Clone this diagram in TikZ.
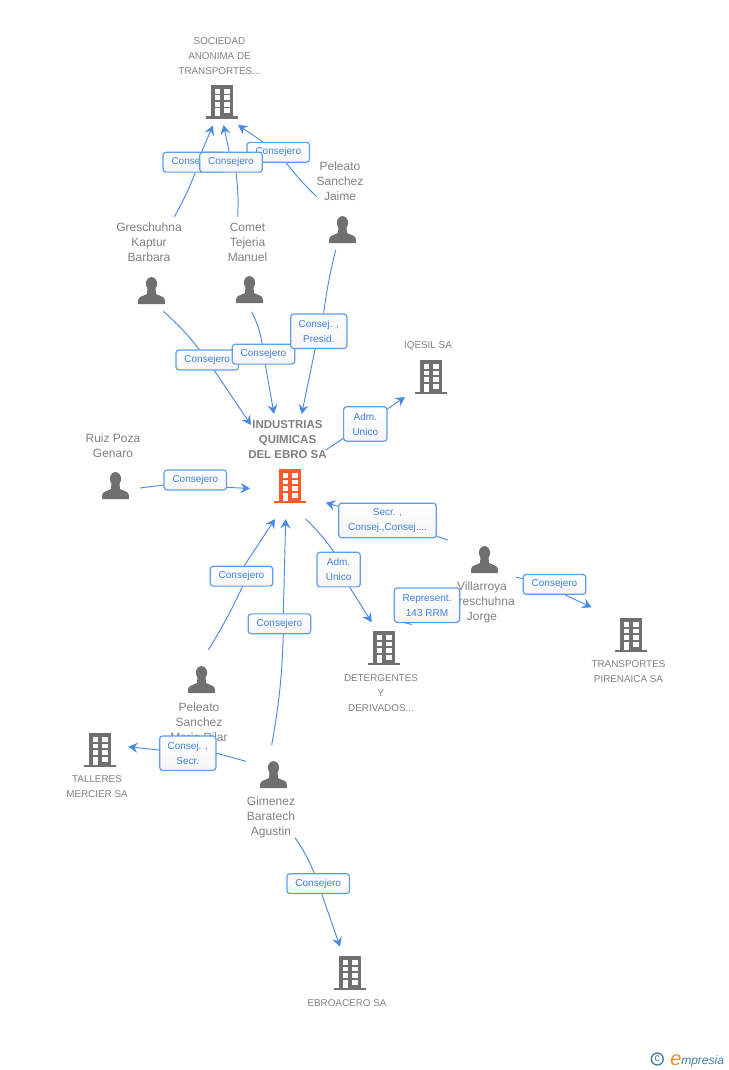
\documentclass[tikz,border=0pt]{standalone}
\usepackage{fontspec}
\setmainfont{Liberation Sans}
\usetikzlibrary{arrows.meta}

\definecolor{icongray}{HTML}{707070}
\definecolor{icored}{HTML}{FF5A2B}
\definecolor{textgray}{HTML}{808080}
\definecolor{linkblue}{HTML}{4A8BE0}
\definecolor{boxblue}{HTML}{5F9CEA}
\definecolor{labelblue}{HTML}{3D80E0}
\definecolor{logoteal}{HTML}{3F7F9F}
\definecolor{logoorange}{HTML}{F08A24}

\tikzset{
	person/.style = {font = \fontsize{9}{11.25}\selectfont, text = textgray, align = center, inner sep = 0},
	company/.style = {font = \fontsize{7.4}{11.25}\selectfont, text = textgray, align = center, inner sep = 0},
	mainco/.style = {font = \fontsize{8.6}{11.25}\selectfont\bfseries, text = textgray, align = center, inner sep = 0},
	role/.style = {draw = boxblue, line width = 0.9pt, rounded corners = 2.2pt, top color = white, bottom color = black!4,
		font = \fontsize{7.5}{11.25}\selectfont, text = labelblue, align = center, inner sep = 0,
		minimum width = 46.9pt, minimum height = 14.9pt},
	rolewide/.style = {role, minimum height = 25.9pt},
	link/.style = {linkblue, line width = 0.7pt},
	tolink/.style = {link, -{Stealth[length = 7pt, width = 7.5pt, inset = 2.5pt]}},
	pics/building/.style = {code = {
		\fill[#1] (-11, -34) rectangle (11, -2);
		\fill[#1] (-16, -2.5) rectangle (16, 0);
		\foreach \wy in {-30, -23.5, -17} {
			\fill[white] (-7.5, \wy) rectangle (-2, \wy + 4.7);
			\fill[white] (2.2, \wy) rectangle (8, \wy + 4.7);
		}
		\fill[white] (2.2, -10.5) rectangle (8, -5.5);
		\fill[white] (-7.5, -10.5) rectangle (-2, -2.5);
	}},
	pics/human/.style = {code = {
		\fill[icongray] (0, -20.3) ellipse (5.6 and 6.6);
		\fill[icongray] (-13.3, 0) -- (-13.3, -4) .. controls (-13.3, -7.5) and (-8, -8) .. (-4.5, -10)
			-- (-4, -16) -- (4, -16) -- (4.5, -10) .. controls (8, -8) and (13.3, -7.5) .. (13.3, -4) -- (13.3, 0) -- cycle;
	}}
}

\begin{document}
\begin{tikzpicture}[x = 0.75pt, y = -0.75pt]
	\useasboundingbox (0, 0) rectangle (728, 1070);

	%	companies
	\pic at (222, 119) {building = icongray};
	\pic at (431, 394) {building = icongray};
	\pic at (290, 503) {building = icored};
	\pic at (384, 665) {building = icongray};
	\pic at (631, 652) {building = icongray};
	\pic at (100, 767) {building = icongray};
	\pic at (350, 990) {building = icongray};

	\node[company] (sociedad) at (219.5, 56) {SOCIEDAD\\ANONIMA DE\\TRANSPORTES...};
	\node[company] (iqesil) at (428, 346) {IQESIL SA};
	\node[mainco] (industrias) at (287.5, 440) {INDUSTRIAS\\QUIMICAS\\DEL EBRO SA};
	\node[company] (detergentes) at (381, 693) {DETERGENTES\\Y\\DERIVADOS...};
	\node[company] (pirenaica) at (628.5, 671.5) {TRANSPORTES\\PIRENAICA SA};
	\node[company] (talleres) at (97, 786.5) {TALLERES\\MERCIER SA};
	\node[company] (ebroacero) at (347, 1003) {EBROACERO SA};

	%	people
	\pic at (342.5, 243) {human};
	\pic at (151.5, 304) {human};
	\pic at (249.5, 303) {human};
	\pic at (115.5, 499) {human};
	\pic at (484.5, 573) {human};
	\pic at (201.5, 693) {human};
	\pic at (273.5, 788) {human};

	\node[person] (jaime) at (340, 181.5) {Peleato\\Sanchez\\Jaime};
	\node[person] (barbara) at (149, 242.5) {Greschuhna\\Kaptur\\Barbara};
	\node[person] (manuel) at (247.5, 242) {Comet\\Tejeria\\Manuel};
	\node[person] (genaro) at (113, 445.5) {Ruiz Poza\\Genaro};
	\node[person] (jorge) at (482, 602) {Villarroya\\Greschuhna\\Jorge};
	\node[person] (pilar) at (199, 722) {Peleato\\Sanchez\\Maria Pilar};
	\node[person] (agustin) at (271, 817) {Gimenez\\Baratech\\Agustin};

	%	role boxes
	\node[role] (barbaraSoc) at (194.3, 162.2) {Consejero};
	\node[role] (jaimeSoc) at (278.3, 152.3) {Consejero};
	\node[role] (manuelSoc) at (231, 162.2) {Consejero};
	\node[role] (barbaraInd) at (207.2, 360) {Consejero};
	\node[role] (manuelInd) at (263.5, 354.2) {Consejero};
	\node[rolewide, minimum width = 42.2pt] (jaimeInd) at (318.8, 331.3) {Consej. ,\\Presid.};
	\node[rolewide, minimum width = 32.5pt] (indIqe) at (365.3, 424) {Adm.\\Unico};
	\node[role] (genaroInd) at (195.3, 480) {Consejero};
	\node[rolewide, minimum width = 73.2pt] (jorgeInd) at (387.5, 520.5) {Secr. ,\\Consej.,Consej....};
	\node[rolewide, minimum width = 32.5pt] (indDet) at (338.6, 569.6) {Adm.\\Unico};
	\node[rolewide, minimum width = 49pt] (jorgeDet) at (427, 605.2) {Represent.\\143 RRM};
	\node[role] (jorgePir) at (554.5, 584.4) {Consejero};
	\node[role] (pilarInd) at (241.5, 576.2) {Consejero};
	\node[role] (agustinInd) at (279.5, 623.8) {Consejero};
	\node[rolewide, minimum width = 42.2pt] (agustinTal) at (187.8, 753.2) {Consej. ,\\Secr.};
	\node[role] (agustinEbr) at (318.2, 883.6) {Consejero};

	%	free ends
	\coordinate (a1) at (174.3, 216.7);
	\coordinate (b1) at (213, 125.5);
	\coordinate (a2) at (237.7, 216.7);
	\coordinate (b2) at (223.5, 125);
	\coordinate (a3) at (316.7, 196.7);
	\coordinate (b3) at (238, 125);
	\coordinate (a4) at (335.7, 250);
	\coordinate (b4) at (301.7, 414);
	\coordinate (a5) at (163.3, 311.3);
	\coordinate (b5) at (251, 425);
	\coordinate (a6) at (251.7, 311.7);
	\coordinate (b6) at (274, 414);
	\coordinate (a7) at (325.7, 450);
	\coordinate (b7) at (405, 397);
	\coordinate (a8) at (140, 488);
	\coordinate (b8) at (250, 488.5);
	\coordinate (a9) at (448, 540);
	\coordinate (b9) at (325.7, 502.7);
	\coordinate (a10) at (305.7, 519);
	\coordinate (b10) at (371.7, 622.3);
	\coordinate (a11) at (404, 622.5);
	\coordinate (b11) at (412, 624.5);
	\coordinate (a12) at (516, 577.3);
	\coordinate (b12) at (591.7, 607.3);
	\coordinate (a13) at (208.3, 650);
	\coordinate (b13) at (275, 519);
	\coordinate (a14) at (271.7, 745);
	\coordinate (b14) at (285.7, 519);
	\coordinate (a15) at (246, 761.3);
	\coordinate (b15) at (128.3, 746.7);
	\coordinate (a16) at (295, 837.7);
	\coordinate (b16) at (340, 946.7);

	%	connectors
	\draw[link] (a1) to[bend right = 4] (barbaraSoc.-85);
	\draw[tolink] (barbaraSoc.55) -- (b1);
	\draw[link] (a2) to[bend right = 5] (manuelSoc.-65);
	\draw[tolink] (manuelSoc.100) -- (b2);
	\draw[link] (a3) to[bend left = 4] (jaimeSoc);
	\draw[tolink] (jaimeSoc) -- (b3);
	\draw[link] (a4) to[bend right = 3] (jaimeInd.75);
	\draw[tolink] (jaimeInd) -- (b4);
	\draw[link] (a5) to[bend left = 5] (barbaraInd);
	\draw[tolink] (barbaraInd) -- (b5);
	\draw[link] (a6) to[bend left = 8] (manuelInd);
	\draw[tolink] (manuelInd) -- (b6);
	\draw[link] (a7) -- (indIqe);
	\draw[tolink] (indIqe) -- (b7);
	\draw[link] (a8) -- (genaroInd.189);
	\draw[tolink] (genaroInd.-13) -- (b8);
	\draw[link] (a9) -- (jorgeInd);
	\draw[tolink] (jorgeInd) -- (b9);
	\draw[link] (a10) to[bend left = 5] (indDet.105);
	\draw[tolink] (indDet) -- (b10);
	\draw[link] (a11) -- (b11);
	\draw[link] (a12) -- (jorgePir);
	\draw[tolink] (jorgePir.-45) -- (b12);
	\draw[link] (a13) to[bend right = 3] (pilarInd.-85);
	\draw[tolink] (pilarInd.75) -- (b13);
	\draw[link] (a14) to[bend right = 4] (agustinInd.-70);
	\draw[tolink] (agustinInd.70) -- (b14);
	\draw[link] (a15) -- (agustinTal.east);
	\draw[tolink] (agustinTal) -- (b15);
	\draw[link] (a16) to[bend left = 6] (agustinEbr);
	\draw[tolink] (agustinEbr) -- (b16);

	%	logo
	\node[circle, draw = logoteal, line width = 1pt, minimum size = 9pt, inner sep = 0, text = logoteal, font = \fontsize{8}{8}\selectfont] (logomark) at (657.3, 1059) {c};
	\node[anchor = base west, inner sep = 0, text = logoorange, font = \fontsize{15}{15}\selectfont\itshape] (logoe) at (670, 1065) {e};
	\node[anchor = base west, inner sep = 0, text = logoteal, font = \fontsize{9}{9}\selectfont\itshape] (logotext) at (681, 1064) {mpresia};
\end{tikzpicture}
\end{document}
